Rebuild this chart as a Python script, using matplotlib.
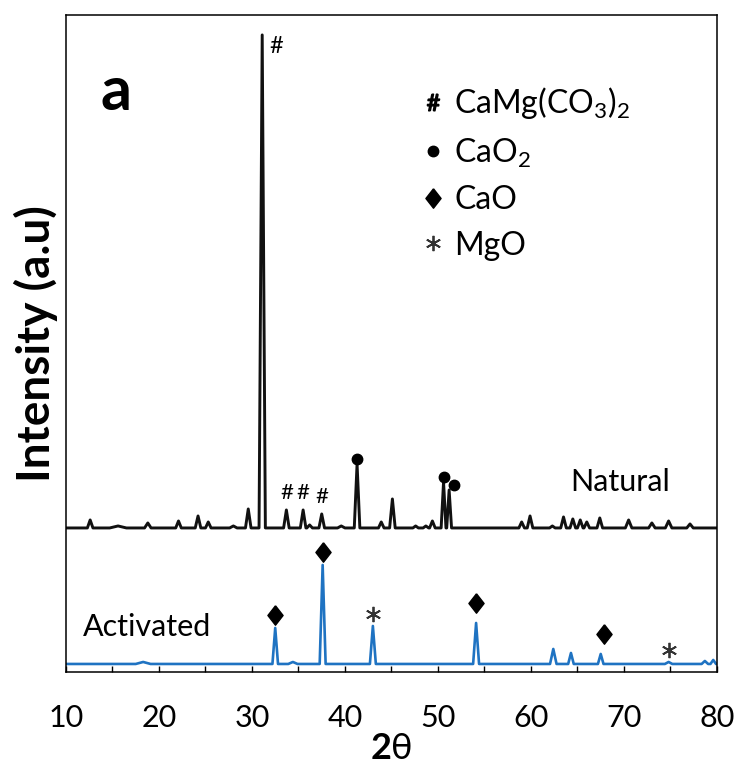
"""XRD patterns of natural and activated dolomite (panel a)."""

import matplotlib

matplotlib.use("Agg")
import matplotlib.pyplot as plt
from matplotlib.lines import Line2D

# peak tables: 2theta, height above baseline, half width
NAT_BASE = 144
NAT_POS = [12.6, 15.6, 18.8, 22.1, 24.2, 25.3, 28.0, 29.6, 31.1, 33.7, 35.5,
           36.2, 37.5, 39.6, 41.3, 43.9, 45.1, 47.6, 48.7, 49.4, 50.6, 51.2,
           59.0, 59.9, 62.3, 63.5, 64.5, 65.3, 66.0, 67.4, 70.5, 73.0, 74.8,
           77.1]
NAT_HEIGHT = [8, 2, 5, 7, 12, 6, 2, 19, 493, 18, 18,
              3, 14, 2, 64, 6, 29, 2, 2, 7, 46, 38,
              6, 12, 2, 11, 9, 8, 6, 10, 8, 5, 7,
              4]
NAT_WIDTH = [0.3, 0.9, 0.35, 0.3, 0.3, 0.3, 0.4, 0.3, 0.34, 0.3, 0.3,
             0.3, 0.3, 0.4, 0.3, 0.3, 0.3, 0.3, 0.3, 0.3, 0.26, 0.26,
             0.3, 0.3, 0.3, 0.3, 0.3, 0.3, 0.3, 0.3, 0.35, 0.35, 0.35,
             0.35]

ACT_BASE = 8
ACT_POS = [18.3, 32.5, 34.4, 37.6, 43.0, 54.1, 62.4, 64.3, 67.5, 74.8, 78.7, 79.6]
ACT_HEIGHT = [2, 36, 2, 99, 38, 41, 15, 11, 10, 2, 3, 4]
ACT_WIDTH = [0.8, 0.3, 0.5, 0.32, 0.32, 0.32, 0.35, 0.3, 0.3, 0.4, 0.35, 0.3]

# phase assignments
DOLOMITE_PEAKS = [33.7, 35.5, 37.5]
CAO2_PEAKS = [41.3, 50.6, 51.2]
CAO_PEAKS = [32.5, 37.6, 54.1, 67.5]
MGO_PEAKS = [43.0, 74.8]

X_TICKS = [10, 20, 30, 40, 50, 60, 70, 80]

plt.rcParams.update({
    "font.family": ["Lato", "DejaVu Sans"],
    "mathtext.fontset": "custom",
    "mathtext.rm": "Lato",
    "mathtext.bf": "Lato:bold",
})


def profile(pos, height, width, base, x0=10, x1=80):
    xs, ys = [x0], [base]
    for p, h, w in sorted(zip(pos, height, width)):
        xs += [p - w, p, p + w]
        ys += [base, base + h, base]
    if xs[-1] < x1:
        xs.append(x1)
        ys.append(base)
    return xs, ys


def top_of(peak, pos, height, base):
    return base + height[pos.index(peak)]


fig = plt.figure(figsize=(7.38, 7.73), dpi=100)
ax = fig.add_axes([0.0894, 0.1307, 0.8821, 0.8500])

nx, ny = profile(NAT_POS, NAT_HEIGHT, NAT_WIDTH, NAT_BASE)
ax.plot(nx, ny, color="#111111", lw=2.1, solid_joinstyle="round")
axx, ayy = profile(ACT_POS, ACT_HEIGHT, ACT_WIDTH, ACT_BASE)
ax.plot(axx, ayy, color="#1f73c2", lw=1.9, solid_joinstyle="round")

# phase markers
ax.annotate("#", xy=(31.1, NAT_BASE + max(NAT_HEIGHT)), xytext=(5, -8),
            textcoords="offset points", fontsize=17, ha="left", va="center")
for p in DOLOMITE_PEAKS:
    ax.annotate("#", xy=(p, top_of(p, NAT_POS, NAT_HEIGHT, NAT_BASE)),
                xytext=(0, 12), textcoords="offset points", fontsize=16,
                ha="center", va="center")
dot_x = [p + (0.5 if i == 2 else 0) for i, p in enumerate(CAO2_PEAKS)]
dot_y = [top_of(p, NAT_POS, NAT_HEIGHT, NAT_BASE) + 5 for p in CAO2_PEAKS]
ax.plot(dot_x, dot_y, ls="none", marker="o", ms=7.5, color="black")

diamond = [(0, 1), (0.78, 0), (0, -1), (-0.78, 0), (0, 1)]
dia_x = [p + (0.4 if p > 60 else 0) for p in CAO_PEAKS]
dia_y = [top_of(p, ACT_POS, ACT_HEIGHT, ACT_BASE) + (13 if p < 50 else 20)
         for p in CAO_PEAKS]
ax.plot(dia_x, dia_y, ls="none", marker=diamond, ms=14, color="black")

ast_y = [top_of(p, ACT_POS, ACT_HEIGHT, ACT_BASE) + 12 for p in MGO_PEAKS]
ax.plot(MGO_PEAKS, ast_y, ls="none", marker=(6, 2, 0), ms=11, mew=1.3,
        color="#333333")

ax.text(64.2, 190, "Natural", fontsize=22, ha="left", va="center")
ax.text(11.8, 45, "Activated", fontsize=22, ha="left", va="center")
ax.text(13.7, 562, "a", fontsize=44, fontweight="bold", ha="left",
        va="baseline")

handles = [
    Line2D([], [], ls="none", marker=r"$\#$", ms=12, color="black"),
    Line2D([], [], ls="none", marker="o", ms=7.5, color="black"),
    Line2D([], [], ls="none", marker=diamond, ms=14, color="black"),
    Line2D([], [], ls="none", marker=(6, 2, 0), ms=11, mew=1.3,
           color="#333333"),
]
labels = [r"CaMg(CO$_3$)$_2$", r"CaO$_2$", "CaO", "MgO"]
ax.legend(handles, labels, loc="upper left", bbox_to_anchor=(0.552, 0.893),
          frameon=False, fontsize=23, handlelength=0.5, handletextpad=0.4,
          labelspacing=0.48, borderpad=0, borderaxespad=0)

ax.set_xlim(10, 80)
ax.set_ylim(0, 657)
ax.set_xticks(X_TICKS)
ax.set_xticks(range(15, 80, 10), minor=True)
ax.tick_params(axis="x", which="both", direction="in", length=4.5, width=1,
               labelsize=22, pad=23)
ax.set_yticks([])
for s in ax.spines.values():
    s.set_linewidth(1.1)

ax.set_xlabel(r"$\mathbf{2}\mathrm{\theta}$", fontsize=26, labelpad=0)
ax.set_ylabel("Intensity (a.u)", fontsize=33, fontweight="bold", labelpad=6)

fig.savefig("out.png", dpi=100)
